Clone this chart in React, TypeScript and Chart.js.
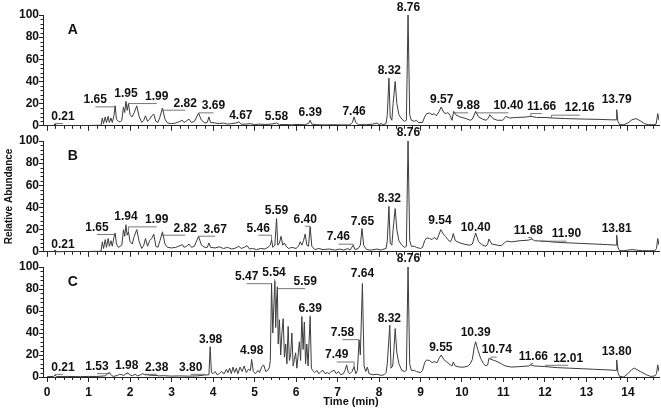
import React, { useEffect, useRef } from 'react';
import { Chart, registerables } from 'chart.js';

Chart.register(...registerables);

// ---------- data ----------
const xTicks = [0, 1, 2, 3, 4, 5, 6, 7, 8, 9, 10, 11, 12, 13, 14];
const yTicks = [0, 20, 40, 60, 80, 100];
const panelLetters = ['A', 'B', 'C'];
const xTitle = 'Time (min)';
const yTitle = 'Relative Abundance';

// [time (min), relative abundance]
const traceA: [number, number][] = [
  [0, 0.3], [0.15, 0.3], [0.19, 1.5], [0.23, 0.3], [0.5, 0.2], [1.0, 0.3], [1.3, 0.5],
  [1.33, 7], [1.36, 2], [1.4, 8], [1.43, 3], [1.47, 8.5], [1.5, 3], [1.54, 7], [1.57, 3], [1.61, 9], [1.64, 18], [1.67, 6], [1.72, 4], [1.76, 3.5], [1.8, 5],
  [1.84, 17], [1.87, 12], [1.9, 22], [1.93, 14], [1.96, 20], [2.0, 10], [2.05, 8], [2.1, 12], [2.16, 18], [2.22, 8], [2.28, 3], [2.33, 5], [2.37, 9], [2.42, 4],
  [2.47, 6], [2.52, 9], [2.57, 10.5], [2.62, 4], [2.67, 3], [2.72, 8], [2.78, 16], [2.84, 6], [2.9, 2.5], [3.0, 2], [3.1, 2.5], [3.2, 4], [3.26, 5], [3.3, 3],
  [3.36, 4.5], [3.42, 6], [3.48, 3], [3.55, 4], [3.65, 11.5], [3.72, 5], [3.8, 2.5], [3.86, 3], [3.9, 8], [3.94, 3], [4.05, 2.5], [4.15, 2], [4.25, 2.5],
  [4.35, 1.5], [4.45, 2], [4.55, 2.5], [4.62, 3.5], [4.68, 1.5], [4.8, 1.5], [4.9, 2], [5.0, 1], [5.1, 1.5], [5.25, 1.2], [5.4, 1.5], [5.53, 2.5], [5.6, 1],
  [5.75, 1.2], [5.9, 0.8], [6.0, 1.2], [6.2, 1], [6.3, 2], [6.34, 5], [6.38, 1.5], [6.5, 1], [6.7, 0.8], [6.9, 1], [7.1, 0.8], [7.3, 0.8], [7.36, 3], [7.4, 8],
  [7.44, 3], [7.5, 1], [7.7, 1], [7.85, 1.5], [7.95, 2.5], [8.0, 1], [8.05, 2], [8.1, 1], [8.17, 2], [8.2, 10], [8.24, 43], [8.27, 8], [8.31, 5], [8.34, 20],
  [8.39, 40], [8.43, 20], [8.48, 10], [8.55, 6], [8.62, 4], [8.66, 5], [8.7, 100], [8.74, 10], [8.78, 5], [8.85, 4], [8.9, 5], [8.95, 3], [9.05, 3], [9.1, 8],
  [9.15, 11], [9.22, 11.5], [9.28, 10], [9.33, 11], [9.38, 9], [9.45, 13], [9.5, 17], [9.56, 12], [9.62, 11], [9.66, 12], [9.72, 9], [9.76, 5], [9.8, 13],
  [9.85, 10], [9.95, 8], [10.1, 6.5], [10.2, 5], [10.25, 6], [10.33, 13], [10.4, 8], [10.5, 6], [10.58, 5], [10.64, 7], [10.67, 10], [10.75, 6.5], [10.85, 5],
  [10.98, 5], [11.06, 8.5], [11.15, 7], [11.3, 7.5], [11.5, 7.8], [11.66, 8.5], [11.8, 7.5], [12.0, 7.5], [12.2, 7], [12.5, 6.5], [12.8, 6.2], [13.0, 6],
  [13.3, 5.8], [13.6, 5.4], [13.72, 5.4], [13.73, 14.5], [13.76, 4], [13.8, 1], [13.9, 1], [14.0, 2.5], [14.1, 5.5], [14.2, 6.5], [14.3, 4.5], [14.4, 2],
  [14.5, 1], [14.62, 1], [14.68, 1.5], [14.72, 11], [14.75, 5],
];

const traceB: [number, number][] = [
  [0, 0.3], [0.15, 0.3], [0.19, 1.5], [0.23, 0.3], [0.6, 0.2], [1.0, 0.3], [1.3, 0.5],
  [1.33, 9], [1.36, 3], [1.4, 11], [1.43, 4], [1.47, 12], [1.5, 5], [1.54, 10], [1.57, 5], [1.61, 13], [1.64, 17], [1.67, 7], [1.72, 4], [1.76, 5], [1.8, 6],
  [1.84, 20], [1.87, 14], [1.9, 24], [1.93, 15], [1.96, 18], [2.0, 9], [2.05, 7], [2.1, 14], [2.16, 20], [2.22, 9], [2.28, 3], [2.33, 6], [2.37, 12], [2.42, 5],
  [2.47, 10], [2.52, 12], [2.57, 16], [2.62, 5], [2.67, 4], [2.72, 10], [2.78, 18], [2.84, 7], [2.9, 4], [3.0, 3.5], [3.1, 4], [3.2, 5.5], [3.26, 6.5], [3.3, 4],
  [3.36, 5], [3.42, 7], [3.48, 4], [3.55, 5], [3.65, 14], [3.72, 6], [3.8, 4], [3.86, 4], [3.9, 8], [3.94, 4], [4.05, 3.5], [4.15, 4.5], [4.25, 3], [4.35, 4],
  [4.45, 2.5], [4.55, 3.5], [4.62, 5], [4.68, 3], [4.75, 4], [4.82, 5.5], [4.88, 2.5], [4.95, 3], [5.05, 2], [5.15, 3], [5.25, 2.5], [5.32, 4], [5.38, 6],
  [5.41, 11], [5.44, 4], [5.49, 6], [5.53, 30], [5.56, 6], [5.6, 8], [5.64, 14], [5.68, 6], [5.72, 8], [5.76, 5], [5.82, 3], [5.9, 4], [6.0, 3], [6.06, 5],
  [6.1, 9], [6.14, 6], [6.18, 10], [6.22, 16], [6.26, 6], [6.3, 5], [6.34, 22.5], [6.38, 5], [6.45, 2], [6.55, 3], [6.65, 2], [6.8, 2.5], [6.95, 1.5],
  [7.05, 2.5], [7.15, 1.5], [7.25, 3], [7.3, 1.5], [7.38, 6], [7.42, 2], [7.5, 3], [7.55, 6], [7.59, 21], [7.63, 6], [7.7, 2], [7.8, 1.5], [7.95, 2.5],
  [8.05, 1.5], [8.12, 2.5], [8.17, 3], [8.2, 10], [8.24, 41], [8.27, 8], [8.31, 6], [8.34, 20], [8.39, 39], [8.43, 20], [8.48, 10], [8.55, 6], [8.62, 4],
  [8.66, 5], [8.7, 100], [8.74, 10], [8.78, 5], [8.85, 5], [8.9, 4], [9.0, 3], [9.05, 4], [9.1, 10], [9.15, 12.5], [9.22, 12], [9.28, 11], [9.33, 13],
  [9.4, 11], [9.45, 16], [9.49, 20], [9.55, 16], [9.6, 14], [9.66, 11], [9.72, 9], [9.76, 12], [9.79, 16.5], [9.84, 10], [9.95, 8], [10.1, 6.5], [10.2, 6],
  [10.25, 7], [10.33, 17], [10.4, 9], [10.5, 6], [10.58, 5], [10.62, 7], [10.65, 11.5], [10.72, 7], [10.85, 6], [10.95, 5.5], [11.02, 8], [11.08, 9.6],
  [11.2, 9], [11.4, 10], [11.6, 10.5], [11.68, 11.5], [11.75, 10], [12.0, 9.5], [12.3, 8.5], [12.6, 8], [12.9, 7.5], [13.2, 7], [13.5, 6.5], [13.72, 6],
  [13.73, 15], [13.76, 4], [13.8, 1], [13.9, 1], [14.0, 1.5], [14.1, 2], [14.2, 1.5], [14.35, 1], [14.5, 1], [14.65, 1], [14.69, 3], [14.72, 12], [14.75, 6],
];

const traceC: [number, number][] = [
  [0, 0.3], [0.15, 0.5], [0.19, 1.5], [0.23, 0.5], [0.5, 0.5], [0.8, 0.3], [1.0, 0.5], [1.2, 0.5], [1.4, 1], [1.46, 3], [1.5, 4], [1.55, 1.5], [1.6, 0.5],
  [1.7, 1.5], [1.75, 2.5], [1.8, 2], [1.85, 1.5], [1.9, 3], [1.95, 3.5], [2.0, 2], [2.05, 1], [2.12, 2.5], [2.18, 1], [2.25, 2], [2.3, 3], [2.36, 2],
  [2.42, 2], [2.5, 1.5], [2.6, 1.5], [2.7, 1], [2.8, 1.2], [3.0, 0.8], [3.2, 1], [3.4, 0.8], [3.6, 1], [3.75, 1.5], [3.8, 1.8], [3.9, 2], [3.93, 27.5],
  [3.96, 4], [4.0, 3], [4.05, 5], [4.1, 2], [4.15, 3], [4.2, 5], [4.27, 3], [4.32, 7], [4.36, 4], [4.4, 8], [4.44, 3], [4.48, 9], [4.52, 4], [4.56, 8],
  [4.6, 3], [4.65, 9], [4.7, 5], [4.75, 10], [4.8, 4], [4.85, 7], [4.9, 6], [4.93, 16], [4.97, 5], [5.02, 3], [5.08, 6], [5.12, 4], [5.17, 9], [5.22, 11],
  [5.27, 5], [5.32, 6], [5.36, 9], [5.38, 15], [5.41, 85], [5.44, 40], [5.46, 60], [5.49, 87], [5.51, 45], [5.53, 70], [5.55, 82], [5.57, 30], [5.6, 52],
  [5.63, 20], [5.66, 40], [5.69, 53], [5.72, 18], [5.75, 30], [5.78, 12], [5.81, 46], [5.84, 15], [5.87, 20], [5.9, 40], [5.93, 10], [5.96, 16], [5.99, 22],
  [6.02, 8], [6.05, 20], [6.08, 32], [6.11, 15], [6.14, 55], [6.17, 25], [6.2, 50], [6.23, 12], [6.26, 30], [6.29, 10], [6.34, 55], [6.37, 8], [6.4, 6],
  [6.45, 4], [6.5, 6], [6.55, 3], [6.6, 5], [6.65, 6], [6.7, 3], [6.75, 4], [6.8, 3], [6.85, 5], [6.92, 6], [6.97, 3], [7.02, 5], [7.08, 2], [7.14, 3],
  [7.18, 6], [7.22, 11], [7.26, 4], [7.3, 3], [7.35, 5], [7.4, 9.4], [7.44, 3], [7.48, 6], [7.52, 33.6], [7.55, 20], [7.6, 85], [7.64, 10], [7.68, 5],
  [7.72, 9], [7.76, 3], [7.85, 2], [7.95, 2.5], [8.05, 1.5], [8.12, 2], [8.17, 4], [8.2, 12], [8.26, 47], [8.29, 8], [8.33, 10], [8.36, 25], [8.39, 44],
  [8.43, 22], [8.48, 12], [8.55, 6], [8.62, 5], [8.66, 6], [8.7, 100], [8.74, 12], [8.78, 6], [8.85, 6], [8.9, 5], [9.0, 4], [9.05, 6], [9.1, 13],
  [9.15, 15.5], [9.22, 15], [9.28, 13], [9.33, 14], [9.4, 13], [9.45, 17], [9.5, 20], [9.56, 16], [9.62, 14], [9.66, 13], [9.72, 11], [9.76, 10],
  [9.79, 13.6], [9.84, 10], [9.95, 9], [10.05, 9], [10.15, 10], [10.2, 12], [10.25, 16], [10.3, 28], [10.33, 32], [10.38, 25], [10.45, 17], [10.52, 12],
  [10.58, 10], [10.62, 11], [10.65, 17], [10.7, 16], [10.78, 15], [10.85, 14], [10.95, 12], [11.05, 10], [11.2, 9], [11.4, 9.5], [11.6, 10], [11.66, 11],
  [11.75, 10], [12.0, 9.5], [12.3, 8.5], [12.6, 8], [12.9, 7.5], [13.2, 7], [13.5, 6.5], [13.72, 6], [13.73, 15.5], [13.76, 4], [13.8, 0.5], [13.9, 0],
  [14.0, 3], [14.1, 7], [14.16, 8], [14.3, 5], [14.45, 2], [14.55, 0.5], [14.65, 1], [14.69, 3], [14.72, 11], [14.75, 5],
];

// peak labels: [text, label time, label abundance, peak time?, peak abundance?]
type PeakLabel = [string, number, number, number?, number?];

const labelsA: PeakLabel[] = [
  ['0.21', 0.38, 8.4, 0.19, 1.5], ['1.65', 1.16, 23.4, 1.64, 18], ['1.95', 1.9, 28.8, 1.9, 22], ['1.99', 2.64, 26.4, 1.96, 20],
  ['2.82', 3.33, 20.4, 2.78, 16], ['3.69', 4.01, 18, 3.65, 11.5], ['4.67', 4.67, 9], ['5.58', 5.53, 8.4], ['6.39', 6.34, 12],
  ['7.46', 7.4, 12.9], ['8.32', 8.25, 49.8], ['8.76', 8.71, 106.9], ['9.57', 9.51, 24], ['9.88', 10.15, 18, 9.8, 13],
  ['10.40', 11.12, 18, 10.33, 13], ['11.66', 11.92, 17.4, 11.66, 8.5], ['12.16', 12.84, 15.9, 12.16, 7.3], ['13.79', 13.73, 23.4],
];

const labelsB: PeakLabel[] = [
  ['0.21', 0.38, 6.3, 0.19, 1.5], ['1.65', 1.2, 21.9, 1.64, 17], ['1.94', 1.9, 31.3, 1.9, 24], ['1.99', 2.64, 28.8, 1.96, 18],
  ['2.82', 3.33, 21.3, 2.78, 18], ['3.67', 4.05, 20.4, 3.65, 14], ['5.46', 5.09, 21.3, 5.41, 11], ['5.59', 5.53, 37.2],
  ['6.40', 6.22, 29.4, 6.34, 22.5], ['7.46', 7.02, 13.2, 7.38, 6], ['7.65', 7.6, 27.3], ['8.32', 8.25, 47.5], ['8.76', 8.71, 107.5],
  ['9.54', 9.47, 28.2], ['10.40', 10.33, 22.2], ['11.68', 11.6, 19.2, 11.68, 11.5], ['11.90', 12.52, 15.9, 11.9, 9.8], ['13.81', 13.73, 21.3],
];

const labelsC: PeakLabel[] = [
  ['0.21', 0.38, 8.8, 0.19, 1.5], ['1.53', 1.2, 9.4, 1.5, 4], ['1.98', 1.92, 10, 1.95, 3.5], ['2.38', 2.64, 8.8, 2.36, 2],
  ['3.80', 3.46, 8.8, 3.8, 1.8], ['3.98', 3.94, 33.6], ['4.98', 4.93, 23.9], ['5.47', 4.81, 91.2, 5.41, 85], ['5.54', 5.47, 94.8, 5.49, 87],
  ['5.59', 6.22, 86.7, 5.55, 82], ['6.39', 6.34, 62.4, 6.34, 55], ['7.49', 6.98, 20, 7.4, 9.4], ['7.58', 7.12, 40.3, 7.52, 33.6],
  ['7.64', 7.6, 93.5], ['8.32', 8.25, 53.3], ['8.76', 8.71, 108], ['9.55', 9.49, 27], ['10.39', 10.33, 40.3], ['10.74', 10.84, 24.5, 10.7, 16],
  ['11.66', 11.72, 18.5, 11.66, 11], ['12.01', 12.56, 17, 12.01, 9.5], ['13.80', 13.73, 23],
];

// ---------- styles ----------
const FAMILY = '"Liberation Sans", Arial, Helvetica, sans-serif';
const AXIS = '#222222';
const LINE = '#3c3c3c';
const TEXT = '#111111';

type PanelProps = {
  top: number;
  height: number;
  padTop: number;
  xHeight: number;
  showX: boolean;
  showYTitle: boolean;
  trace: [number, number][];
  labels: PeakLabel[];
  letter: string;
};

function Panel({ top, height, padTop, xHeight, showX, showYTitle, trace, labels, letter }: PanelProps) {
  const ref = useRef<HTMLCanvasElement | null>(null);

  useEffect(() => {
    if (!ref.current) return;
    const overlay = {
      id: 'overlay',
      afterDraw(chart: any) {
        const { ctx, chartArea } = chart;
        const xs = chart.scales.x;
        const ys = chart.scales.y;
        ctx.save();
        // minor ticks
        ctx.strokeStyle = AXIS;
        ctx.lineWidth = 1;
        ctx.beginPath();
        for (let i = 0; i <= 73; i++) {
          const t = i * 0.2;
          if (i % 5 === 0) continue;
          const px = Math.round(xs.getPixelForValue(t)) + 0.5;
          ctx.moveTo(px, chartArea.bottom);
          ctx.lineTo(px, chartArea.bottom + 3);
        }
        for (let v = 0; v <= 100; v += 4) {
          if (v % 20 === 0) continue;
          const py = Math.round(ys.getPixelForValue(v)) + 0.5;
          ctx.moveTo(chartArea.left - 2.5, py);
          ctx.lineTo(chartArea.left, py);
        }
        ctx.stroke();

        // peak labels
        ctx.font = `bold 12px ${FAMILY}`;
        ctx.textAlign = 'center';
        ctx.textBaseline = 'middle';
        ctx.strokeStyle = '#555555';
        ctx.lineWidth = 0.8;
        for (const [text, t, v, pt, pv] of labels) {
          const cx = xs.getPixelForValue(t);
          const cy = ys.getPixelForValue(v);
          if (pt !== undefined && pv !== undefined) {
            const tx = xs.getPixelForValue(pt);
            const ty = ys.getPixelForValue(pv);
            const ly = cy + 7;
            ctx.beginPath();
            ctx.moveTo(cx, ly);
            ctx.lineTo(tx, ly);
            ctx.lineTo(tx, ty);
            ctx.stroke();
          }
          ctx.fillStyle = TEXT;
          ctx.fillText(text, cx, cy);
        }

        // panel letter
        ctx.font = `bold 14px ${FAMILY}`;
        ctx.fillText(letter, xs.getPixelForValue(0.62), ys.getPixelForValue(86));
        ctx.restore();
      },
    };

    const chart = new Chart(ref.current, {
      type: 'line',
      data: {
        datasets: [
          {
            data: trace.map(([x, y]) => ({ x, y })),
            borderColor: LINE,
            borderWidth: 1,
            pointRadius: 0,
            tension: 0,
            fill: false,
          },
        ],
      },
      options: {
        animation: false,
        responsive: false,
        events: [],
        layout: { padding: { top: padTop, right: 2, left: 0, bottom: 0 } },
        plugins: { legend: { display: false }, tooltip: { enabled: false } },
        scales: {
          x: {
            type: 'linear',
            min: -0.1,
            max: 14.75,
            afterBuildTicks: (s: any) => {
              s.ticks = xTicks.map((value) => ({ value }));
            },
            afterFit: (s: any) => {
              s.height = xHeight;
            },
            grid: { drawOnChartArea: false, drawTicks: true, tickLength: 5, color: AXIS, lineWidth: 1 },
            border: { display: true, color: AXIS, width: 1 },
            ticks: {
              display: showX,
              autoSkip: false,
              maxRotation: 0,
              padding: 3,
              color: TEXT,
              font: { family: FAMILY, size: 12, weight: 'bold' },
            },
            title: {
              display: showX,
              text: xTitle,
              color: TEXT,
              font: { family: FAMILY, size: 11, weight: 'bold' },
              padding: { top: 0, bottom: 9 },
            },
          },
          y: {
            type: 'linear',
            min: 0,
            max: 100,
            afterBuildTicks: (s: any) => {
              s.ticks = yTicks.map((value) => ({ value }));
            },
            afterFit: (s: any) => {
              s.width = 43;
            },
            grid: { drawOnChartArea: false, drawTicks: true, tickLength: 4, color: AXIS, lineWidth: 1 },
            border: { display: true, color: AXIS, width: 1 },
            ticks: {
              padding: 0,
              color: TEXT,
              font: { family: FAMILY, size: 12, weight: 'bold' },
            },
            title: {
              display: showYTitle,
              text: yTitle,
              color: TEXT,
              font: { family: FAMILY, size: 10, weight: 'bold' },
              padding: { top: 3, bottom: 0 },
            },
          },
        },
      },
      plugins: [overlay],
    } as any);

    return () => chart.destroy();
  }, []);

  return (
    <canvas
      ref={ref}
      width={661}
      height={height}
      style={{ position: 'absolute', left: 0, top, width: 661, height, display: 'block' }}
    />
  );
}

export default function App() {
  return (
    <div style={{ position: 'absolute', left: 0, top: 0, width: 661, height: 418, background: '#ffffff' }}>
      <Panel top={0} height={133} padTop={15} xHeight={7} showX={false} showYTitle={false} trace={traceA} labels={labelsA} letter={panelLetters[0]} />
      <Panel top={120} height={139} padTop={21} xHeight={7} showX={false} showYTitle={true} trace={traceB} labels={labelsB} letter={panelLetters[1]} />
      <Panel top={250} height={168} padTop={17} xHeight={41} showX={true} showYTitle={false} trace={traceC} labels={labelsC} letter={panelLetters[2]} />
    </div>
  );
}
